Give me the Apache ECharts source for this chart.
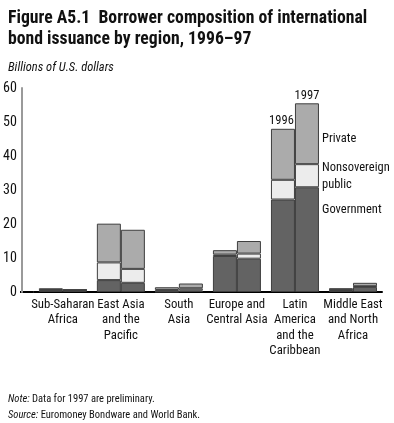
<!DOCTYPE html>
<html><head><meta charset="utf-8">
<script src="https://cdn.jsdelivr.net/npm/echarts@6/dist/echarts.min.js"></script>
<style>html,body{margin:0;padding:0;background:#fff}#c{width:394px;height:423px}</style>
</head><body><div id="c"></div>
<script>
const categories = ['Sub-Saharan\nAfrica','East Asia\nand the\nPacific','South\nAsia','Europe and\nCentral Asia','Latin\nAmerica\nand the\nCaribbean','Middle East\nand North\nAfrica'];
const gov96 = [0.5, 3.5, 0.1, 10.6, 27.2, 0.6];
const non96 = [0.1, 5.2, 0.5, 0.4, 5.8, 0.1];
const pri96 = [0.5, 11.4, 0.8, 1.3, 15.0, 0.4];
const gov97 = [0.6, 2.7, 0.5, 9.8, 30.8, 1.5];
const non97 = [0.0, 4.1, 0.6, 1.5, 6.8, 0.2];
const pri97 = [0.0, 11.5, 1.4, 3.7, 17.9, 1.0];
const yearLabels = ['1996', '1997'];
const yTicks = [0, 10, 20, 30, 40, 50, 60];

const F = "'Roboto Condensed','Liberation Sans Narrow',sans-serif";
const C = {gov:'#636363', non:'#ececec', pri:'#ababab', border:'#3f3f3f'};
const LA = 4;

function mk(name, stack, data, color, topLabel, dx){
  return {
    name, type:'bar', stack, barWidth:24, barGap:'0%',
    itemStyle:{color, borderColor:C.border, borderWidth:1},
    emphasis:{disabled:true},
    data: data.map((v,i)=> (topLabel && i===LA) ? {value:v, label:{show:true, position:'top', distance:1, offset:[dx||0,0], formatter:topLabel, color:'#111', fontFamily:F, fontSize:12.5}} : v)
  };
}

const chart = echarts.init(document.getElementById('c'), null, {renderer:'canvas'});
chart.setOption({
  animation:false,
  textStyle:{fontFamily:F},
  title:[
    {text:'Figure A5.1  Borrower composition of international\nbond issuance by region, 1996–97', left:3, top:3,
     textStyle:{fontFamily:F, fontWeight:'bold', fontSize:17.7, lineHeight:21, color:'#111'}},
    {text:'Billions of U.S. dollars', left:3, top:56, textStyle:{fontFamily:F, fontStyle:'italic', fontWeight:'normal', fontSize:12.5, color:'#111'}},
    {text:'{i|Note:} Data for 1997 are preliminary.\n{i|Source:} Euromoney Bondware and World Bank.', left:3, top:387,
     textStyle:{fontFamily:F, fontWeight:'normal', fontSize:10.5, lineHeight:15.5, color:'#111',
       rich:{i:{fontFamily:F, fontStyle:'italic', fontSize:10.5, color:'#111'}}}}
  ],
  grid:{left:32, right:12, top:88, bottom:131},
  xAxis:{type:'category', data:categories,
    axisLine:{lineStyle:{color:'#000', width:2}}, axisTick:{show:false},
    axisLabel:{fontFamily:F, fontSize:12.8, lineHeight:15.5, color:'#111', margin:5, interval:0}},
  yAxis:{type:'value', min:0, max:60, interval:10, offset:12,
    axisLine:{show:true, lineStyle:{color:'#9a9a9a', width:2}}, axisTick:{show:false}, splitLine:{show:false},
    axisLabel:{fontFamily:F, fontSize:14, color:'#111', margin:5,
      formatter:v=> yTicks.includes(v) ? String(v) : ''}},
  graphic:[
    {type:'line', shape:{x1:20, y1:292, x2:33, y2:292}, style:{stroke:'#000', lineWidth:2}},
    {type:'text', left:322, top:132, style:{text:'Private', font:'12.5px '+F, fill:'#111'}},
    {type:'text', left:322, top:159, style:{text:'Nonsovereign\npublic', font:'12.5px '+F, fill:'#111', lineHeight:17}},
    {type:'text', left:322, top:203, style:{text:'Government', font:'12.5px '+F, fill:'#111'}}
  ],
  series:[
    mk('Government 1996','y96',gov96,C.gov),
    mk('Nonsovereign public 1996','y96',non96,C.non),
    mk('Private 1996','y96',pri96,C.pri,yearLabels[0],-1.5),
    mk('Government 1997','y97',gov97,C.gov),
    mk('Nonsovereign public 1997','y97',non97,C.non),
    mk('Private 1997','y97',pri97,C.pri,yearLabels[1],0)
  ]
});
</script></body></html>
